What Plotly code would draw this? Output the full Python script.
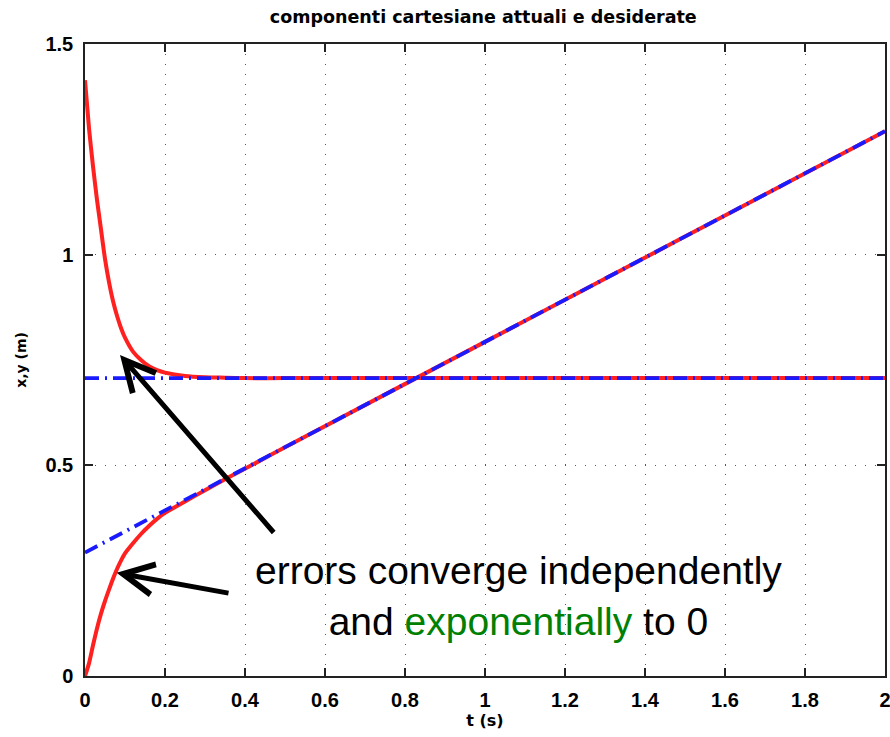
import plotly.graph_objects as go

# time samples (s)
t_curve = [0, 0.01, 0.02, 0.03, 0.04, 0.05, 0.06, 0.07, 0.08, 0.09, 0.10,
           0.12, 0.14, 0.16, 0.18, 0.20, 0.25, 0.30, 0.35, 0.40, 0.5, 1.0, 1.5, 2.0]
# actual x (red)
x_actual = [1.414, 1.30, 1.21, 1.13, 1.06, 0.99, 0.935, 0.89, 0.855, 0.826, 0.803,
            0.770, 0.750, 0.735, 0.726, 0.720, 0.712, 0.709, 0.708, 0.707, 0.707, 0.707, 0.707, 0.707]
# actual y (red)
y_actual = [0.0, 0.03, 0.073, 0.113, 0.148, 0.178, 0.205, 0.231, 0.254, 0.274, 0.291,
            0.315, 0.337, 0.356, 0.373, 0.387, 0.414, 0.441, 0.467, 0.492, 0.543, 0.793, 1.043, 1.293]
# desired (blue)
t_des = [0, 2]
x_desired = [0.707, 0.707]
y_desired = [0.293, 1.293]

x_ticks = [0, 0.2, 0.4, 0.6, 0.8, 1, 1.2, 1.4, 1.6, 1.8, 2]
y_ticks = [0, 0.5, 1, 1.5]

fig = go.Figure()
red = dict(color="#ff2020", width=4, shape="spline", smoothing=0.6)
blue = dict(color="#1a1aff", width=3.8, dash="14px,6px,2px,6px")
fig.add_trace(go.Scatter(x=t_curve, y=x_actual, mode="lines", line=red))
fig.add_trace(go.Scatter(x=t_curve, y=y_actual, mode="lines", line=red))
fig.add_trace(go.Scatter(x=t_des, y=x_desired, mode="lines", line=blue))
fig.add_trace(go.Scatter(x=t_des, y=y_desired, mode="lines", line=blue))

axis_common = dict(
    showline=True, linecolor="#222", linewidth=1.5, mirror="ticks",
    ticks="inside", ticklen=8, tickcolor="#222", tickwidth=1.5,
    showgrid=True, gridcolor="#555", gridwidth=1, griddash="1px,9px",
    zeroline=False, automargin=False, ticklabeloverflow="allow",
    tickfont=dict(family="Liberation Sans", size=20, color="black", weight="bold"),
)
fig.update_xaxes(range=[0, 2], tickvals=x_ticks, ticktext=[f"{v:g}" for v in x_ticks],
                 ticklabelstandoff=5,
                 title=dict(text="t (s)", font=dict(family="DejaVu Sans", size=16, weight="bold", color="black"), standoff=2),
                 **axis_common)
fig.update_yaxes(range=[0, 1.5], tickvals=y_ticks, ticktext=[f"{v:g}" for v in y_ticks],
                 ticklabelstandoff=6,
                 title=dict(text="x,y (m)", font=dict(family="DejaVu Sans", size=14, weight="bold", color="black"), standoff=16),
                 **axis_common)

arrow = dict(showarrow=True, arrowhead=5, arrowsize=1.2, arrowwidth=5, arrowcolor="black",
             axref="x", ayref="y", xref="x", yref="y", text="")
fig.add_annotation(x=0.0875, y=0.762, ax=0.475, ay=0.337, **arrow)
fig.add_annotation(x=0.079, y=0.245, ax=0.3625, ay=0.196, **arrow)

fig.add_annotation(
    x=1.0825, y=0.19, xref="x", yref="y", showarrow=False,
    text="errors converge independently<br>and <span style='color:#008000'>exponentially</span> to 0",
    font=dict(family="Liberation Sans", size=39, color="black"), align="center",
)

fig.update_layout(
    width=890, height=737,
    margin=dict(l=85, r=5, t=44, b=61),
    paper_bgcolor="white", plot_bgcolor="white",
    showlegend=False,
    title=dict(text="componenti cartesiane attuali e desiderate", x=0.543, xanchor="center",
               y=0.977, yanchor="middle",
               font=dict(family="DejaVu Sans", size=17.5, color="black", weight="bold")),
)

fig.write_html("out.html", config={"displayModeBar": False},
               post_script="document.body.style.margin='0';document.body.style.overflow='hidden';")
